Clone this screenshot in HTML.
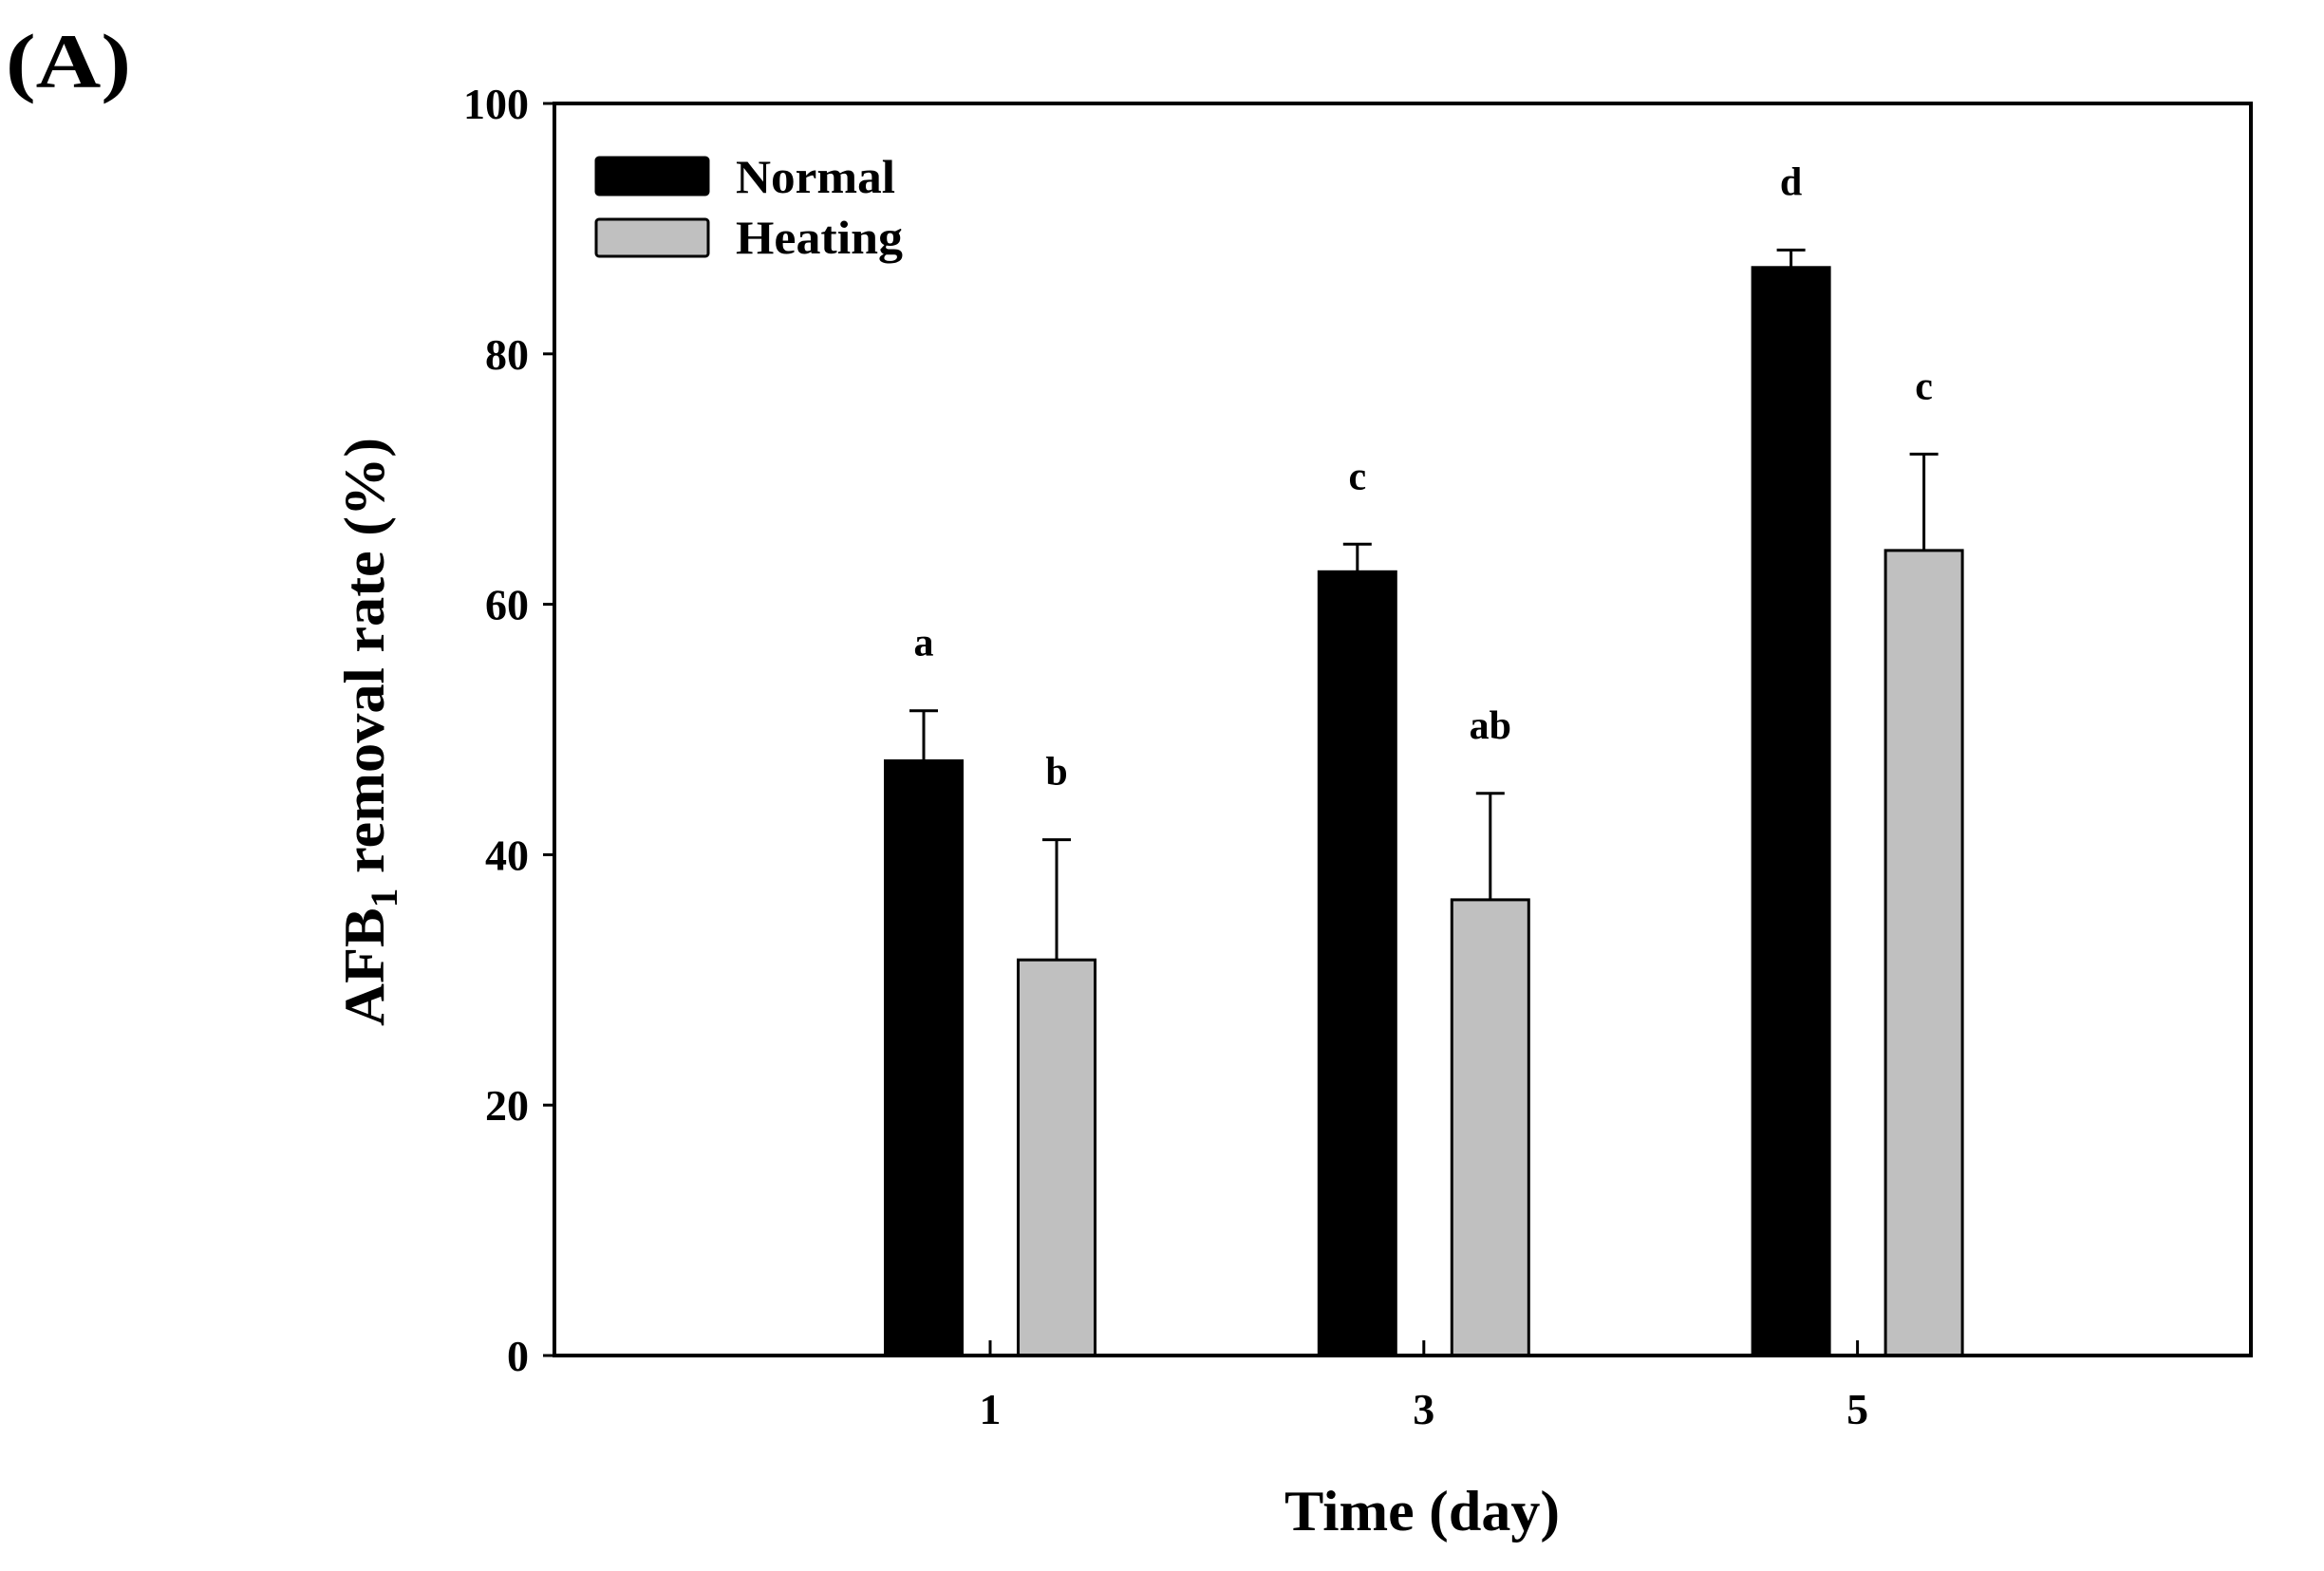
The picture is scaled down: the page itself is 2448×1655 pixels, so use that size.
<!DOCTYPE html>
<html><head><meta charset="utf-8">
<style>html,body{margin:0;padding:0;background:#fff;}svg{display:block;font-family:"Liberation Serif",serif;font-weight:bold;}</style>
</head><body>
<svg id="chart" width="2448" height="1655" viewBox="0 0 2448 1655" xmlns="http://www.w3.org/2000/svg">
<text x="6" y="92" font-size="82" textLength="132" lengthAdjust="spacingAndGlyphs">(A)</text>
<g id="plot"></g>
</svg>
<script>
const categories = [1, 3, 5];
const normalValues = [47.5, 62.6, 86.9];
const normalErrors = [4.0, 2.2, 1.4];
const heatingValues = [31.6, 36.4, 64.3];
const heatingErrors = [9.6, 8.5, 7.7];
const normalLetters = ["a", "c", "d"];
const heatingLetters = ["b", "ab", "c"];
const yTicks = [0, 20, 40, 60, 80, 100];

const L = 584, R = 2371, T = 109, B = 1428;
const NS = "http://www.w3.org/2000/svg";
const g = document.getElementById("plot");
function y(v){ return B - (v/100)*(B-T); }
function x(d){ return 1043 + (d-1)*228.4; }
function mk(tag, attrs, parent){ const e=document.createElementNS(NS,tag); for(const k in attrs) e.setAttribute(k,attrs[k]); (parent||g).appendChild(e); return e; }

const barW = 81, off = 70;
function drawSeries(vals, errs, letters, dx, fill, name){
  vals.forEach((v,i)=>{
    const cx = x(categories[i]) + dx;
    const top = y(v + errs[i]);
    const el = mk("line",{x1:cx,x2:cx,y1:y(v),y2:top,stroke:"#000","stroke-width":3});
    
    
    const cap = mk("line",{x1:cx-15,x2:cx+15,y1:top,y2:top,stroke:"#000","stroke-width":3});
    
    
    const r = mk("rect",{x:cx-barW/2,y:y(v),width:barW,height:B-y(v),fill:fill,stroke:"#000","stroke-width":3});
    
    
    const t = mk("text",{x:cx,y:top-58,"text-anchor":"middle","font-size":42});
    t.textContent = letters[i];
    
    
  });
}
drawSeries(normalValues, normalErrors, normalLetters, -off, "#000", "normal");
drawSeries(heatingValues, heatingErrors, heatingLetters, off, "#c0c0c0", "heating");

const fr = mk("rect",{x:L,y:T,width:R-L,height:B-T,fill:"none",stroke:"#000","stroke-width":4});



yTicks.forEach(v=>{
  const tk = mk("line",{x1:L-12,x2:L,y1:y(v),y2:y(v),stroke:"#000","stroke-width":3});
  
  
  const t = mk("text",{x:L-27,y:y(v)+16,"text-anchor":"end","font-size":46});
  t.textContent = v;
  
  
});
categories.forEach(d=>{
  const tk = mk("line",{x1:x(d),x2:x(d),y1:B,y2:B-16,stroke:"#000","stroke-width":3});
  
  
  const t = mk("text",{x:x(d),y:1500,"text-anchor":"middle","font-size":46});
  t.textContent = d;
  
  
});

const xt = mk("text",{x:1498,y:1612,"text-anchor":"middle","font-size":60,textLength:290,lengthAdjust:"spacingAndGlyphs"});
xt.textContent = "Time (day)";



const yt = mk("text",{x:0,y:0,"text-anchor":"middle","font-size":60,transform:"translate(404,771) rotate(-90)",textLength:620,lengthAdjust:"spacingAndGlyphs"});
yt.innerHTML = 'AFB<tspan font-size="40" dy="14">1</tspan><tspan dy="-14"> removal rate (%)</tspan>';



const lg = mk("g",{});


const l1 = mk("rect",{x:628,y:166,width:118,height:39,fill:"#000",stroke:"#000","stroke-width":3,rx:3},lg);


const l2 = mk("rect",{x:628,y:231,width:118,height:39,fill:"#c0c0c0",stroke:"#000","stroke-width":3,rx:3},lg);


const t1 = mk("text",{x:775,y:203,"font-size":50,textLength:168,lengthAdjust:"spacingAndGlyphs"},lg);
t1.textContent = "Normal";


const t2 = mk("text",{x:775,y:267,"font-size":50,textLength:176,lengthAdjust:"spacingAndGlyphs"},lg);
t2.textContent = "Heating";


</script>
</body></html>
